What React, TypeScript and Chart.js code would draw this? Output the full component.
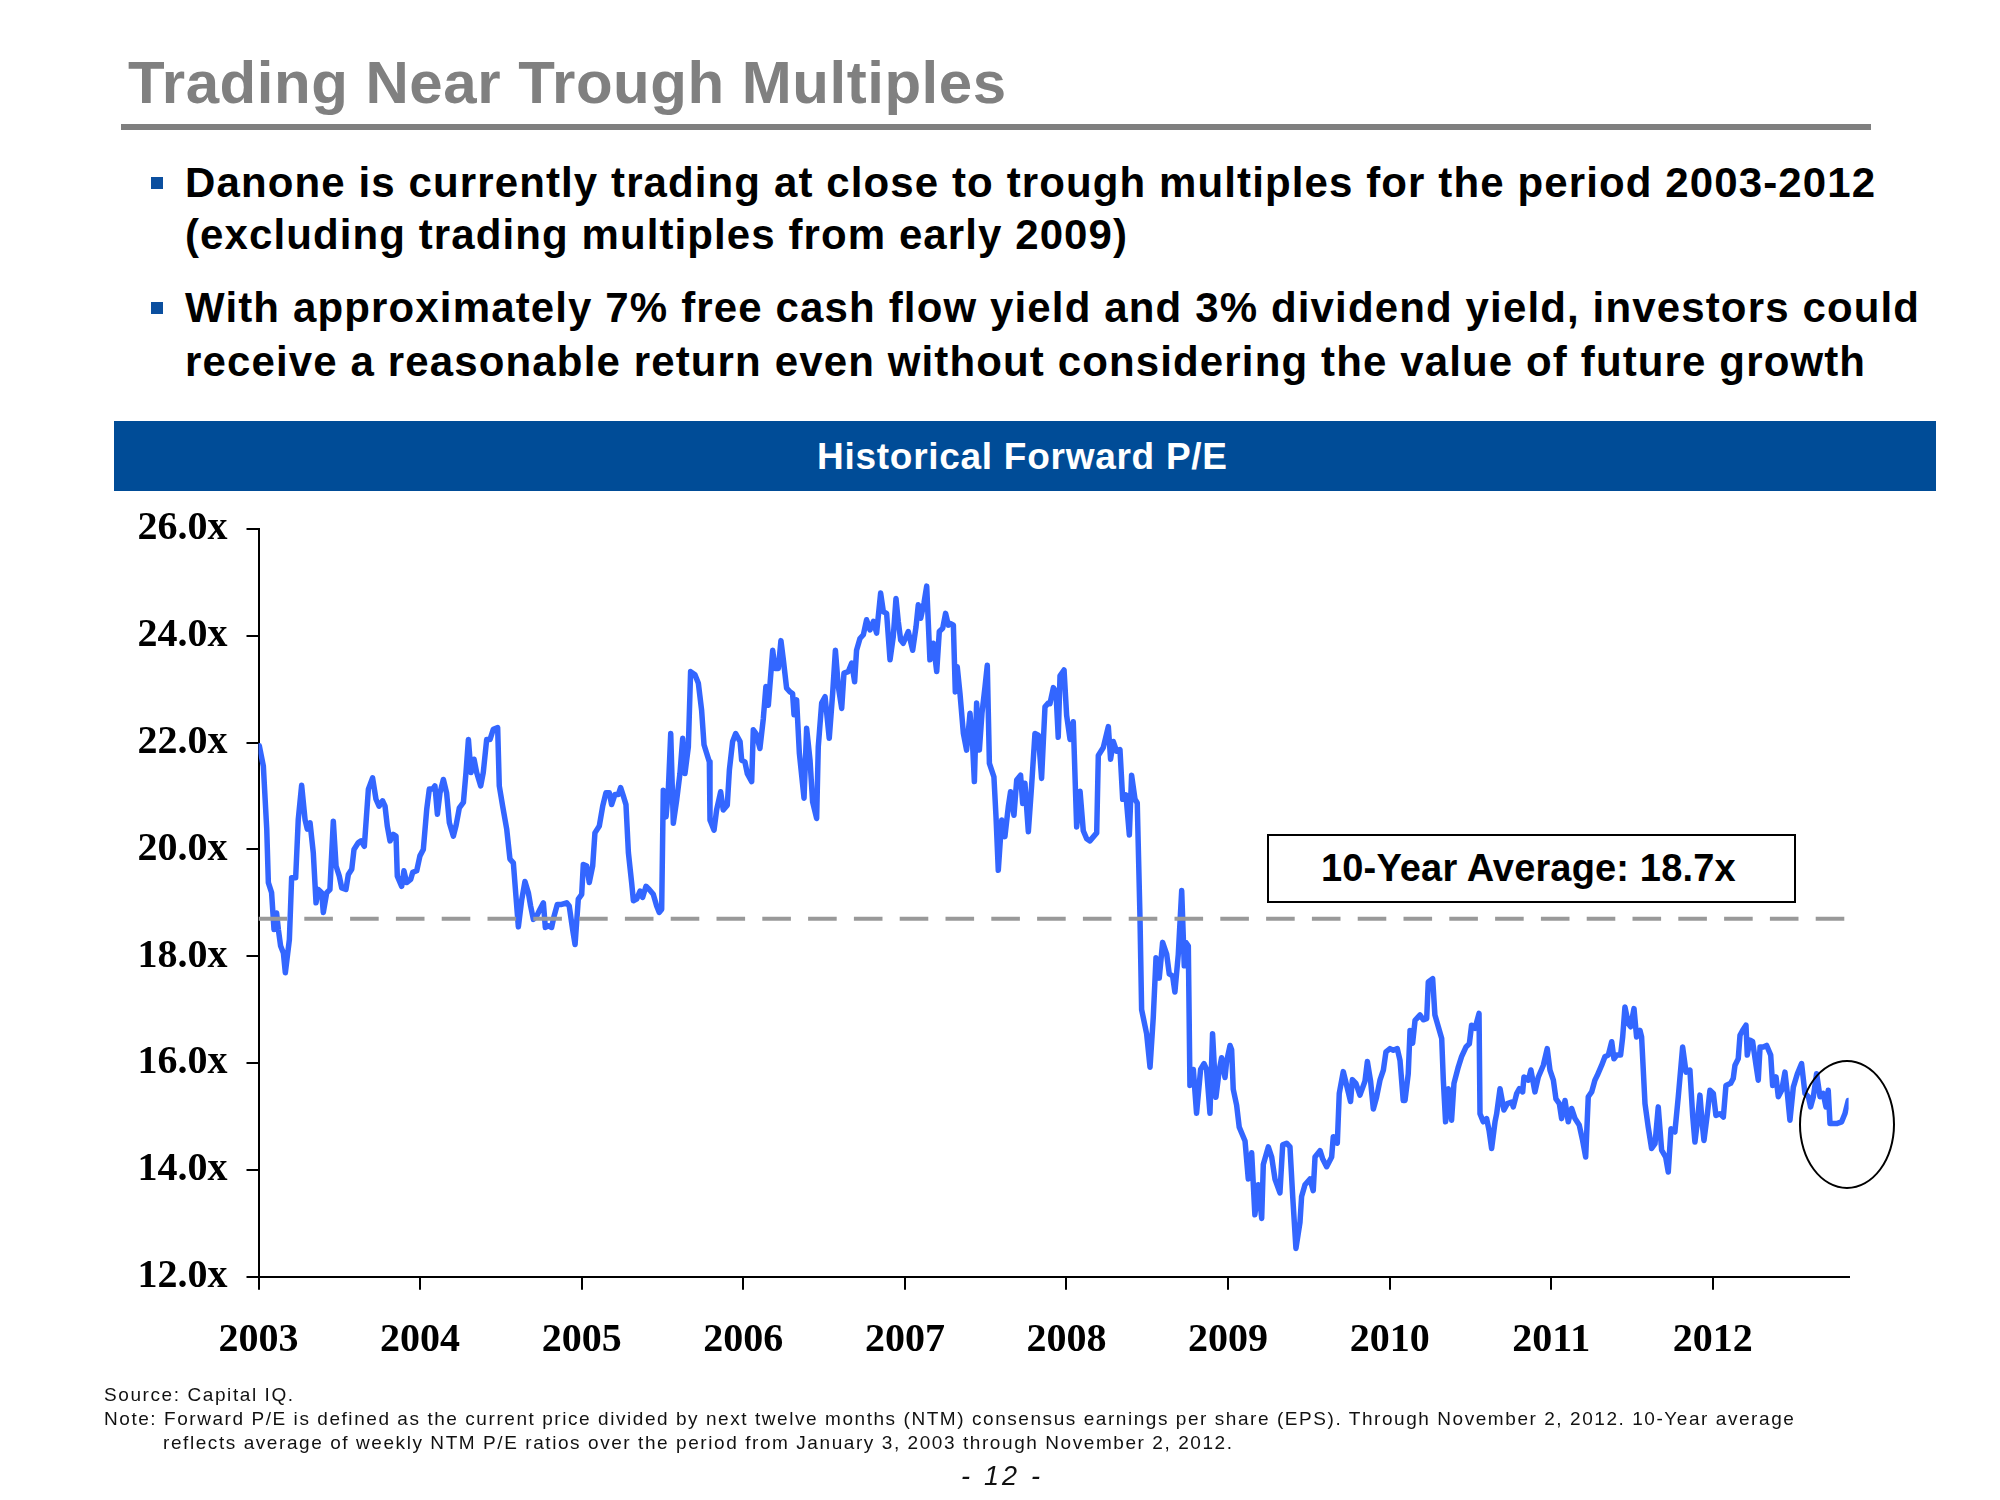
import React, { useEffect, useRef } from 'react';
import { Chart, registerables } from 'chart.js';

Chart.register(...registerables);

// ---------------- DATA ----------------
// Weekly NTM forward P/E (decimal year, multiple)
const DATES: number[] = [
  2003.005, 2003.030, 2003.051, 2003.061, 2003.081, 2003.096, 2003.112, 2003.123, 2003.137, 2003.154,
  2003.166, 2003.191, 2003.205, 2003.230, 2003.246, 2003.267, 2003.288, 2003.302, 2003.319, 2003.339,
  2003.356, 2003.370, 2003.391, 2003.401, 2003.422, 2003.442, 2003.463, 2003.480, 2003.500, 2003.515,
  2003.541, 2003.556, 2003.577, 2003.591, 2003.618, 2003.634, 2003.655, 2003.680, 2003.706, 2003.727,
  2003.746, 2003.768, 2003.783, 2003.797, 2003.814, 2003.834, 2003.851, 2003.859, 2003.886, 2003.900,
  2003.917, 2003.942, 2003.954, 2003.979, 2003.999, 2004.020, 2004.041, 2004.057, 2004.078, 2004.092,
  2004.107, 2004.123, 2004.144, 2004.164, 2004.181, 2004.206, 2004.222, 2004.243, 2004.268, 2004.284,
  2004.299, 2004.315, 2004.334, 2004.350, 2004.375, 2004.391, 2004.412, 2004.433, 2004.453, 2004.480,
  2004.490, 2004.511, 2004.536, 2004.556, 2004.577, 2004.593, 2004.608, 2004.629, 2004.649, 2004.670,
  2004.684, 2004.701, 2004.721, 2004.742, 2004.763, 2004.775, 2004.794, 2004.814, 2004.829, 2004.849,
  2004.876, 2004.907, 2004.923, 2004.944, 2004.959, 2004.979, 2005.000, 2005.010, 2005.031, 2005.047,
  2005.068, 2005.082, 2005.109, 2005.130, 2005.150, 2005.171, 2005.185, 2005.206, 2005.227, 2005.241,
  2005.258, 2005.274, 2005.289, 2005.309, 2005.320, 2005.340, 2005.361, 2005.377, 2005.398, 2005.418,
  2005.443, 2005.464, 2005.480, 2005.495,
  2005.505, 2005.522, 2005.536, 2005.551, 2005.567, 2005.588, 2005.608, 2005.625, 2005.639, 2005.660,
  2005.674, 2005.701, 2005.722, 2005.742, 2005.757, 2005.790, 2005.794, 2005.819, 2005.835, 2005.860,
  2005.876, 2005.901, 2005.914, 2005.934, 2005.953, 2005.980, 2005.990, 2006.010, 2006.025, 2006.052,
  2006.062, 2006.079, 2006.103, 2006.124, 2006.140, 2006.155, 2006.182, 2006.196, 2006.217, 2006.233,
  2006.248, 2006.268, 2006.289, 2006.305, 2006.314, 2006.330, 2006.347, 2006.376, 2006.392, 2006.413,
  2006.429, 2006.454, 2006.464, 2006.485, 2006.506, 2006.532, 2006.553, 2006.570, 2006.588, 2006.609,
  2006.623, 2006.650, 2006.671, 2006.689, 2006.701, 2006.722, 2006.743, 2006.763, 2006.784, 2006.805,
  2006.825, 2006.850, 2006.867, 2006.887, 2006.908, 2006.928, 2006.945, 2006.959, 2006.974, 2006.990,
  2007.021, 2007.048, 2007.069, 2007.083, 2007.098, 2007.118, 2007.135, 2007.155, 2007.176, 2007.197,
  2007.213, 2007.234, 2007.252, 2007.269, 2007.283, 2007.300, 2007.312, 2007.324, 2007.341, 2007.362,
  2007.382, 2007.403, 2007.419, 2007.430, 2007.444, 2007.461, 2007.477, 2007.496, 2007.510, 2007.523,
  2007.551, 2007.564, 2007.578, 2007.599, 2007.619, 2007.640, 2007.654, 2007.675, 2007.692, 2007.716,
  2007.729, 2007.743, 2007.764, 2007.784, 2007.805, 2007.826, 2007.846, 2007.867, 2007.887, 2007.898,
  2007.919, 2007.935, 2007.949, 2007.960, 2007.985, 2008.001, 2008.022, 2008.042, 2008.063, 2008.084,
  2008.104, 2008.125, 2008.145, 2008.187, 2008.197, 2008.228, 2008.259, 2008.273, 2008.290, 2008.310,
  2008.331, 2008.348, 2008.368, 2008.389, 2008.403, 2008.424, 2008.438, 2008.455, 2008.465, 2008.496,
  2008.517, 2008.537, 2008.554, 2008.574, 2008.595, 2008.620, 2008.636, 2008.657, 2008.671, 2008.692,
  2008.713, 2008.729, 2008.739, 2008.754, 2008.764, 2008.785, 2008.805, 2008.830, 2008.851, 2008.867,
  2008.888, 2008.904, 2008.925, 2008.946, 2008.960, 2008.981, 2008.991, 2009.012, 2009.022, 2009.032,
  2009.053, 2009.069, 2009.105, 2009.125, 2009.146, 2009.166, 2009.187, 2009.208, 2009.218, 2009.249,
  2009.270, 2009.290, 2009.321, 2009.338, 2009.362, 2009.383, 2009.400, 2009.420, 2009.445, 2009.455,
  2009.476, 2009.507, 2009.527, 2009.538, 2009.569, 2009.585, 2009.610, 2009.641, 2009.651, 2009.676,
  2009.688, 2009.713, 2009.734, 2009.758, 2009.769, 2009.791, 2009.816, 2009.847, 2009.862, 2009.882,
  2009.899, 2009.919,
  2009.940, 2009.961, 2009.977, 2010.002, 2010.023, 2010.047, 2010.064, 2010.084, 2010.095, 2010.115,
  2010.126, 2010.142, 2010.157, 2010.188, 2010.208, 2010.229, 2010.239, 2010.266, 2010.280, 2010.301,
  2010.322, 2010.332, 2010.346, 2010.363, 2010.383, 2010.398, 2010.425, 2010.445, 2010.472, 2010.493,
  2010.507, 2010.528, 2010.553, 2010.559, 2010.579, 2010.600, 2010.615, 2010.631, 2010.652, 2010.662,
  2010.683, 2010.707, 2010.728, 2010.755, 2010.765, 2010.786, 2010.802, 2010.823, 2010.831, 2010.858,
  2010.874, 2010.899, 2010.920, 2010.951, 2010.975, 2010.992, 2011.013, 2011.029, 2011.050, 2011.064,
  2011.085, 2011.105, 2011.126, 2011.147, 2011.173, 2011.194, 2011.213, 2011.229, 2011.250, 2011.270,
  2011.285, 2011.312, 2011.332, 2011.353, 2011.374, 2011.388, 2011.405, 2011.429, 2011.442, 2011.456,
  2011.477, 2011.491, 2011.512, 2011.528, 2011.549, 2011.559, 2011.580, 2011.600, 2011.621, 2011.642,
  2011.662, 2011.683, 2011.708, 2011.724, 2011.741, 2011.765, 2011.786, 2011.813, 2011.834, 2011.858,
  2011.875, 2011.889, 2011.904, 2011.920, 2011.935, 2011.945, 2011.966, 2011.982, 2012.003, 2012.019,
  2012.044, 2012.065, 2012.081, 2012.110, 2012.126, 2012.137, 2012.157, 2012.168, 2012.184, 2012.205,
  2012.213, 2012.230, 2012.246, 2012.267, 2012.281, 2012.292, 2012.312, 2012.333, 2012.358, 2012.370,
  2012.391, 2012.405, 2012.426, 2012.446, 2012.461, 2012.477, 2012.498, 2012.523, 2012.549, 2012.570,
  2012.591, 2012.605, 2012.622, 2012.642, 2012.663, 2012.683, 2012.700, 2012.714, 2012.725, 2012.745,
  2012.770, 2012.797, 2012.817, 2012.838,
];

const FORWARD_PE: number[] = [
  21.94, 21.56, 20.38, 19.38, 19.19, 18.50, 18.81, 18.50, 18.19, 18.06,
  17.69, 18.31, 19.47, 19.47, 20.56, 21.20, 20.56, 20.38, 20.50, 19.94,
  19.00, 19.25, 19.19, 18.82, 19.19, 19.25, 20.53, 19.69, 19.50, 19.28,
  19.25, 19.53, 19.63, 20.00, 20.13, 20.16, 20.06, 21.13, 21.34, 20.94,
  20.81, 20.91, 20.81, 20.44, 20.16, 20.28, 20.25, 19.50, 19.31, 19.60,
  19.38, 19.44, 19.57, 19.60, 19.88, 20.00, 20.75, 21.13, 21.13, 21.19,
  20.66, 21.06, 21.31, 21.06, 20.50, 20.25, 20.44, 20.78, 20.88, 21.44,
  22.06, 21.44, 21.69, 21.44, 21.19, 21.44, 22.06, 22.06, 22.25, 22.28,
  21.19, 20.81, 20.38, 19.82, 19.75, 19.13, 18.55, 19.06, 19.40, 19.19,
  18.94, 18.69, 18.75, 18.88, 19.00, 18.54, 18.57, 18.54, 18.75, 18.97,
  18.97, 19.00, 18.94, 18.50, 18.22, 19.07, 19.16, 19.72, 19.69, 19.38,
  19.69, 20.31, 20.44, 20.81, 21.06, 21.06, 20.84, 21.03, 21.03, 21.16,
  21.00, 20.84, 19.94, 19.38, 19.04, 19.07, 19.22, 19.10, 19.31, 19.25,
  19.16, 18.94, 18.82, 18.88,
  21.11, 20.61, 21.11, 22.17, 20.49, 20.93, 21.42, 22.08, 21.42, 21.92,
  23.33, 23.27, 23.11, 22.61, 21.96, 21.64, 20.55, 20.36, 20.74, 21.08,
  20.74, 20.83, 21.49, 22.02, 22.17, 22.02, 21.67, 21.64, 21.42, 21.27,
  22.24, 22.17, 21.89, 22.45, 23.05, 22.70, 23.73, 23.39, 23.39, 23.91,
  23.55, 23.02, 22.95, 22.92, 22.52, 22.80, 21.80, 20.96, 22.27, 21.67,
  20.89, 20.58, 21.92, 22.74, 22.86, 22.08, 22.92, 23.73, 23.05, 22.64,
  23.30, 23.33, 23.49, 23.14, 23.73, 23.95, 24.02, 24.30, 24.11, 24.27,
  24.05, 24.80, 24.45, 24.42, 23.55, 23.98, 24.70, 24.27, 23.92, 23.86,
  24.08, 23.73, 24.17, 24.58, 24.33, 24.61, 24.93, 23.55, 23.86, 23.33,
  24.08, 24.14, 24.42, 24.20, 24.23, 24.20, 22.95, 23.42, 22.92, 22.17,
  21.86, 22.55, 21.96, 21.27, 22.74, 21.86, 22.55, 23.05, 23.45, 21.61,
  21.36, 20.61, 19.61, 20.55, 20.24, 20.80, 21.08, 20.64, 21.30, 21.39,
  20.86, 21.24, 20.33, 21.18, 22.17, 22.14, 21.33, 22.67, 22.74, 22.73,
  23.03, 22.95, 22.10, 23.25, 23.36, 22.51, 22.06, 22.39, 20.42, 21.09,
  20.35, 20.20, 20.16, 20.31, 21.76, 21.91, 22.30, 21.69, 22.02, 21.84,
  21.87, 20.94, 21.02, 20.27, 21.39, 20.94, 20.87, 18.71, 17.00, 16.55,
  15.92, 16.85, 17.97, 17.59, 18.26, 18.04, 17.67, 17.63, 17.33, 18.04,
  19.23, 17.82, 18.26, 18.19, 15.58, 15.88, 15.06, 15.88, 15.99, 15.88,
  15.06, 16.55, 15.36, 15.88, 16.10, 15.73, 16.03, 16.33, 16.25, 15.51,
  15.21, 14.80, 14.54, 13.83, 14.32, 13.16, 13.72, 13.09, 14.10, 14.43,
  14.24, 13.83, 13.57, 14.47, 14.50, 14.43, 13.50, 12.53, 13.02, 13.50,
  13.72, 13.83, 13.61, 14.24, 14.36, 14.21, 14.06, 14.24, 14.62, 14.50,
  15.43, 15.84, 15.58, 15.28, 15.69, 15.62, 15.40, 15.66, 16.03, 15.66,
  15.14, 15.36,
  15.68, 15.87, 16.21, 16.27, 16.24, 16.27, 16.05, 15.30, 15.30, 15.80,
  16.61, 16.37, 16.80, 16.90, 16.81, 16.83, 17.52, 17.58, 16.90, 16.68,
  16.46, 15.68, 14.90, 15.52, 14.93, 15.62, 15.93, 16.12, 16.30, 16.36,
  16.71, 16.65, 16.93, 15.05, 14.90, 14.96, 14.74, 14.40, 14.90, 15.05,
  15.52, 15.12, 15.24, 15.27, 15.18, 15.43, 15.52, 15.46, 15.74, 15.68,
  15.87, 15.46, 15.74, 15.96, 16.27, 15.87, 15.68, 15.33, 15.24, 14.96,
  15.30, 14.90, 15.15, 14.96, 14.84, 14.55, 14.24, 15.37, 15.46, 15.68,
  15.77, 15.96, 16.12, 16.15, 16.40, 16.08, 16.15, 16.15, 16.49, 17.05,
  16.74, 16.68, 17.02, 16.49, 16.61, 16.49, 15.24, 14.80, 14.40, 14.49,
  15.18, 14.37, 14.24, 13.96, 14.77, 14.71, 15.37, 16.30, 15.83, 15.87,
  15.02, 14.52, 14.90, 15.40, 14.84, 14.55, 15.05, 15.49, 15.43, 15.02,
  15.05, 14.99, 15.58, 15.62, 15.71, 15.96, 16.08, 16.52, 16.61, 16.71,
  16.15, 16.43, 16.40, 15.96, 15.68, 16.30, 16.30, 16.33, 16.15, 15.58,
  15.74, 15.37, 15.49, 15.83, 15.43, 14.93, 15.55, 15.80, 15.99, 15.43,
  15.37, 15.18, 15.37, 15.80, 15.37, 15.43, 15.18, 15.49, 14.87, 14.87,
  14.87, 14.90, 15.05, 15.30,
];

const TEN_YEAR_AVG = 18.7;
const AVG_SPAN: number[] = [2003.0, 2012.84];
const X_RANGE: number[] = [2003.0, 2012.84];
const Y_TICKS: number[] = [12, 14, 16, 18, 20, 22, 24, 26];
const YEAR_TICKS: number[] = [2003, 2004, 2005, 2006, 2007, 2008, 2009, 2010, 2011, 2012];

const TITLE = 'Trading Near Trough Multiples';
const BULLET_1 = [
  'Danone is currently trading at close to trough multiples for the period 2003-2012',
  '(excluding trading multiples from early 2009)',
];
const BULLET_2 = [
  'With approximately 7% free cash flow yield and 3% dividend yield, investors could',
  'receive a reasonable return even without considering the value of future growth',
];
const CHART_TITLE = 'Historical Forward P/E';
const AVG_LABEL = `10-Year Average: ${TEN_YEAR_AVG.toFixed(1)}x`;
const SOURCE = 'Source:  Capital IQ.';
const NOTE_1 =
  'Note: Forward P/E is defined as the current price divided by next twelve months (NTM) consensus earnings per share (EPS).  Through November 2, 2012. 10-Year average';
const NOTE_2 =
  'reflects average of weekly NTM P/E ratios over the period from January 3, 2003 through November 2, 2012.';
const PAGE = '- 12 -';

// ---------------- STYLE ----------------
const SANS = '"Liberation Sans", Arial, Helvetica, sans-serif';
const SERIF = '"Liberation Serif", "Times New Roman", Times, serif';
const LINE_BLUE = '#3366ff';
const NAVY = '#004c97';

let measureCtx: CanvasRenderingContext2D | null = null;
function measure(text: string, font: string): number {
  if (!measureCtx) measureCtx = document.createElement('canvas').getContext('2d');
  if (!measureCtx) return 0;
  measureCtx.font = font;
  return measureCtx.measureText(text).width;
}

type TxtProps = {
  text: string;
  x: number;
  base: number;
  size: number;
  width?: number;
  weight?: number;
  color?: string;
  italic?: boolean;
  family?: string;
  asc?: number;
};

function Txt({ text, x, base, size, width, weight = 700, color = '#000', italic = false, family = SANS, asc = 0.8465 }: TxtProps) {
  const font = `${italic ? 'italic ' : ''}${weight} ${size}px ${family}`;
  const w = measure(text, font);
  const ls = width ? (width - w) / Math.max(1, text.length - 1) : 0;
  return (
    <div
      style={{
        position: 'absolute',
        left: x,
        top: base - asc * size,
        fontFamily: family,
        fontSize: size,
        fontWeight: weight,
        fontStyle: italic ? 'italic' : 'normal',
        lineHeight: `${size}px`,
        letterSpacing: `${ls}px`,
        color,
        whiteSpace: 'nowrap',
      }}
    >
      {text}
    </div>
  );
}

function PEChart() {
  const ref = useRef<HTMLCanvasElement | null>(null);
  useEffect(() => {
    if (!ref.current) return;
    const series = DATES.map((d, i) => ({ x: d, y: FORWARD_PE[i] }));
    const avg = AVG_SPAN.map((d) => ({ x: d, y: TEN_YEAR_AVG }));
    const chart = new Chart(ref.current, {
      type: 'line',
      data: {
        datasets: [
          {
            data: avg,
            borderColor: '#999999',
            borderWidth: 4,
            borderDash: [28.6, 17.2],
            pointRadius: 0,
            fill: false,
          },
          {
            data: series,
            borderColor: LINE_BLUE,
            borderWidth: 5.5,
            pointRadius: 0,
            tension: 0,
            fill: false,
            borderJoinStyle: 'round',
            borderCapStyle: 'round',
          },
        ],
      },
      options: {
        responsive: false,
        animation: false,
        devicePixelRatio: 1,
        layout: { padding: { left: 100, top: 529, right: 2000 - 1848.6, bottom: 140 } },
        plugins: { legend: { display: false }, tooltip: { enabled: false }, title: { display: false } },
        scales: {
          x: {
            type: 'linear',
            min: X_RANGE[0],
            max: X_RANGE[1],
            afterBuildTicks: (s: any) => {
              s.ticks = YEAR_TICKS.map((v) => ({ value: v }));
            },
            afterFit: (s: any) => {
              s.height = 83.3;
            },
            ticks: {
              autoSkip: false,
              maxRotation: 0,
              padding: 27,
              color: '#000',
              font: { family: SERIF, size: 40, weight: 'bold' },
              callback: (v: any) => String(v),
            },
            grid: { drawOnChartArea: false, drawTicks: true, tickLength: 13, color: '#000', lineWidth: 2 },
            border: { display: true, color: '#000', width: 2 },
          },
          y: {
            type: 'linear',
            min: Y_TICKS[0],
            max: Y_TICKS[Y_TICKS.length - 1],
            afterBuildTicks: (s: any) => {
              s.ticks = Y_TICKS.map((v) => ({ value: v }));
            },
            afterFit: (s: any) => {
              s.width = 158.5;
            },
            ticks: {
              padding: 19,
              color: '#000',
              font: { family: SERIF, size: 40, weight: 'bold' },
              callback: (v: any) => `${Number(v).toFixed(1)}x`,
            },
            grid: { drawOnChartArea: false, drawTicks: true, tickLength: 12, color: '#000', lineWidth: 2 },
            border: { display: true, color: '#000', width: 2 },
          },
        },
      } as any,
    });
    return () => chart.destroy();
  }, []);
  return (
    <canvas
      ref={ref}
      width={2000}
      height={1500}
      style={{ position: 'absolute', left: 0, top: 0, width: 2000, height: 1500 }}
    />
  );
}

export default function App() {
  return (
    <div
      style={{
        position: 'absolute',
        left: 0,
        top: 0,
        width: 2000,
        height: 1500,
        background: '#fff',
        overflow: 'hidden',
      }}
    >
      <Txt text={TITLE} x={128} base={104} size={60} width={878} color="#808080" />
      <div style={{ position: 'absolute', left: 121, top: 124, width: 1750, height: 6, background: '#7f7f7f' }} />

      <div style={{ position: 'absolute', left: 151, top: 177, width: 12, height: 12, background: '#0b4f9f' }} />
      <Txt text={BULLET_1[0]} x={185} base={198} size={42} width={1690} />
      <Txt text={BULLET_1[1]} x={185} base={250} size={42} width={942} />
      <div style={{ position: 'absolute', left: 151, top: 302, width: 12, height: 12, background: '#0b4f9f' }} />
      <Txt text={BULLET_2[0]} x={185} base={323} size={42} width={1734} />
      <Txt text={BULLET_2[1]} x={185} base={377} size={42} width={1680} />

      <div style={{ position: 'absolute', left: 113.5, top: 421, width: 1822.5, height: 70, background: NAVY }} />
      <Txt text={CHART_TITLE} x={817} base={469} size={37} width={410} color="#ffffff" />

      <PEChart />

      <div
        style={{
          position: 'absolute',
          left: 1266.5,
          top: 834,
          width: 529.5,
          height: 69,
          border: '2.5px solid #000',
          boxSizing: 'border-box',
          background: '#fff',
        }}
      />
      <Txt text={AVG_LABEL} x={1321} base={881} size={38} width={416} />

      <div
        style={{
          position: 'absolute',
          left: 1799,
          top: 1059.5,
          width: 96,
          height: 129,
          border: '2px solid #000',
          borderRadius: '50%',
          boxSizing: 'border-box',
        }}
      />

      <Txt text={SOURCE} x={104} base={1401} size={19} weight={400} width={196} color="#111" />
      <Txt text={NOTE_1} x={104} base={1425} size={19} weight={400} width={1697} color="#111" />
      <Txt text={NOTE_2} x={163} base={1449} size={19} weight={400} width={1069} color="#111" />
      <Txt text={PAGE} x={961} base={1486} size={27} weight={400} italic width={79} color="#111" />
    </div>
  );
}
